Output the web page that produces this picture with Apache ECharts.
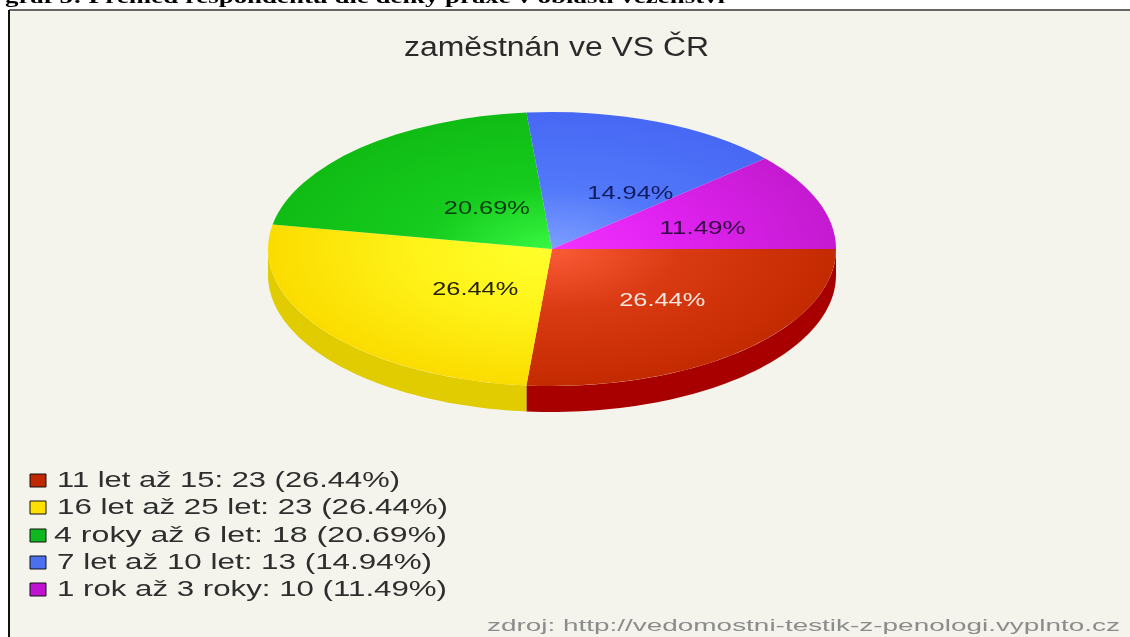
<!DOCTYPE html>
<html><head><meta charset="utf-8">
<style>html,body{margin:0;padding:0;background:#fff}#c{width:1130px;height:637px;filter:blur(0.45px)}</style>
<script src="https://cdn.jsdelivr.net/npm/echarts@6/dist/echarts.min.js"></script>
</head><body><div id="c"></div>
<script>
const heading = "graf 5: Přehled respondentů dle délky praxe v oblasti vězeňství";
const chartTitle = "zaměstnán ve VS ČR";
const source = "zdroj: http://vedomostni-testik-z-penologi.vyplnto.cz";
const categories = ["11 let až 15", "16 let až 25 let", "4 roky až 6 let", "7 let až 10 let", "1 rok až 3 roky"];
const counts = [23, 23, 18, 13, 10];
const percents = ["26.44%", "26.44%", "20.69%", "14.94%", "11.49%"];

// styling and layout
const centerColors = ["#fb5c38", "#ffff2c", "#38f842", "#7d9fff", "#f232ff"];
const midColors = ["#d93a12", "#fff41a", "#16cc1e", "#5278fa", "#e022f0"];
const edgeColors = ["#c42a00", "#fbdc00", "#10bc14", "#4768f4", "#c41ad0"];
const sideColors = ["#a80000", "#e0cc00", null, null, null];
const swatchColors = ["#bf2800", "#ffe000", "#10b820", "#4a70f0", "#c010d0"];
const labelColors = ["#f6e6e0", "#222200", "#0a3a10", "#101c60", "#300a40"];
const labelNudge = [[24, 7], [25, 4], [21, 6], [31, 2], [31, 2]];
const legendX = [57, 57, 54, 57, 57];
const legendY = [481, 508, 536, 563, 590];
const legendW = [343, 391, 393, 375, 390];
const PIE = {cx: 552, cy: 249, rx: 284, ry: 137, depth: 26};
const SANS = 'Liberation Sans';

const total = counts.reduce((a, b) => a + b, 0);
const measure = document.createElement('canvas').getContext('2d');
function fitText(text, x, y, font, width, fill, extra) {
  measure.font = font;
  const s = width / measure.measureText(text).width;
  return Object.assign({type: 'text', x: x, y: y, scaleX: s, silent: true,
    style: {text: text, font: font, fill: fill, textAlign: 'left', textVerticalAlign: 'middle'}}, extra || {});
}

function renderSlice(params, api) {
  const i = params.dataIndex;
  let before = 0;
  for (let k = 0; k < i; k++) before += counts[k];
  const a0 = before / total * 2 * Math.PI;
  const a1 = (before + api.value(0)) / total * 2 * Math.PI;
  const children = [];
  // front wall: only the part of the slice facing the viewer
  const s0 = Math.min(a0, Math.PI), s1 = Math.min(a1, Math.PI);
  if (s1 > s0 && sideColors[i]) {
    const top = [], bottom = [];
    for (let t = 0; t <= 60; t++) {
      const a = s0 + (s1 - s0) * t / 60;
      const px = PIE.cx + PIE.rx * Math.cos(a), py = PIE.cy + PIE.ry * Math.sin(a);
      top.push([px, py]);
      bottom.unshift([px, py + PIE.depth]);
    }
    children.push({type: 'polygon', shape: {points: top.concat(bottom)}, style: {fill: sideColors[i]}, z2: 1});
  }
  children.push({
    type: 'group', x: PIE.cx, y: PIE.cy, scaleY: PIE.ry / PIE.rx,
    children: [{
      type: 'sector',
      shape: {cx: 0, cy: 0, r0: 0, r: PIE.rx, startAngle: a0, endAngle: a1, clockwise: true},
      z2: 2,
      style: {fill: {type: 'radial', x: 0, y: 0, r: PIE.rx, global: true,
        colorStops: [{offset: 0, color: centerColors[i]}, {offset: 0.45, color: midColors[i]}, {offset: 1, color: edgeColors[i]}]}}
    }]
  });
  const mid = (a0 + a1) / 2;
  children.push(fitText(percents[i],
    PIE.cx + 0.45 * PIE.rx * Math.cos(mid) + labelNudge[i][0] - 43,
    PIE.cy + 0.45 * PIE.ry * Math.sin(mid) + labelNudge[i][1],
    '18px "' + SANS + '"', 86, labelColors[i], {z2: 10}));
  return {type: 'group', children: children};
}

const graphics = [
  {type: 'rect', shape: {x: 9, y: 10, width: 1121, height: 627}, style: {fill: '#f4f4ec'}, z: -2},
  {type: 'rect', shape: {x: 0, y: 9, width: 1130, height: 2}, style: {fill: '#666666'}, x: 9, z: -1},
  {type: 'rect', shape: {x: 8, y: 10, width: 2, height: 627}, style: {fill: '#111111'}, z: -1},
  fitText(heading, 5, -2, 'bold 18px "Liberation Serif"', 720, '#000000'),
  fitText(chartTitle, 404, 49, '27px "' + SANS + '"', 305, '#2a2a2a'),
  fitText(source, 487, 626, '17px "' + SANS + '"', 633, '#8c8c8c')
];
categories.forEach((c, i) => {
  graphics.push({type: 'rect', shape: {x: 30, y: legendY[i] - 7, width: 16, height: 13},
    style: {fill: swatchColors[i], stroke: '#111111', lineWidth: 1}});
  graphics.push(fitText(c + ': ' + counts[i] + ' (' + percents[i] + ')', legendX[i], legendY[i],
    '22px "' + SANS + '"', legendW[i], '#2e2e2e'));
});

const chart = echarts.init(document.getElementById('c'), null, {renderer: 'canvas'});
chart.setOption({
  backgroundColor: '#ffffff',
  animation: false,
  graphic: graphics,
  series: [{
    type: 'custom',
    coordinateSystem: 'none',
    clip: false,
    renderItem: renderSlice,
    data: counts.map((v, i) => ({name: categories[i], value: [v]}))
  }]
});
</script></body></html>
